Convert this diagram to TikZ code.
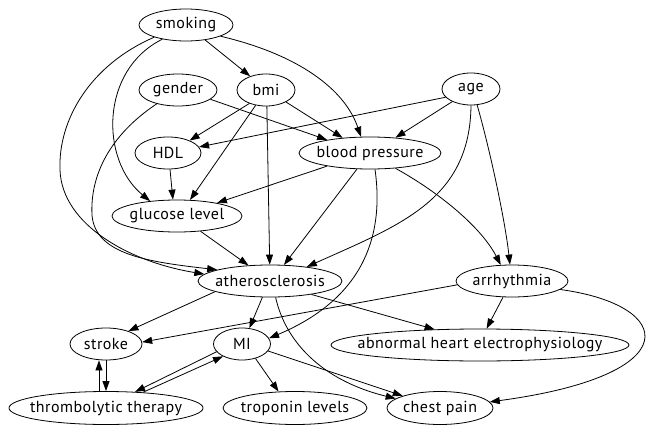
\documentclass[tikz,border=0pt]{standalone}
\usepackage{fontspec}
\setmainfont[LetterSpace=3]{PT Sans}
\usetikzlibrary{shapes.geometric,arrows.meta}
\newcommand\zt[1]{\makebox[0pt]{#1}}
\begin{document}
\begin{tikzpicture}[x=1pt,y=-1pt,
  nd/.style={draw,ellipse,inner sep=0pt,line width=0.8pt,font=\fontsize{16}{18}\selectfont},
  ed/.style={line width=0.8pt,-{Triangle[length=10pt,width=7pt]}}]
\useasboundingbox (0,0) rectangle (654,434);
\node[nd,minimum width=94pt,minimum height=32pt] (smoking) at (186,25) {\zt{smoking}};
\node[nd,minimum width=78pt,minimum height=32pt] (gender) at (178,90) {\zt{gender}};
\node[nd,minimum width=58pt,minimum height=32pt] (bmi) at (266,90) {\zt{bmi}};
\node[nd,minimum width=58pt,minimum height=32pt] (age) at (471,89) {\zt{age}};
\node[nd,minimum width=66pt,minimum height=32pt] (HDL) at (168,153) {\zt{HDL}};
\node[nd,minimum width=142pt,minimum height=32pt] (bp) at (370,153) {\zt{blood pressure}};
\node[nd,minimum width=130pt,minimum height=32pt] (glucose) at (177,216) {\zt{glucose level}};
\node[nd,minimum width=144pt,minimum height=32pt] (athero) at (270,281) {\zt{atherosclerosis}};
\node[nd,minimum width=112pt,minimum height=32pt] (arr) at (512,281) {\zt{arrhythmia}};
\node[nd,minimum width=72pt,minimum height=32pt] (stroke) at (106,344) {\zt{stroke}};
\node[nd,minimum width=57pt,minimum height=32pt] (MI) at (242,344) {\zt{MI}};
\node[nd,minimum width=298pt,minimum height=32pt] (abn) at (480,345) {\zt{abnormal heart electrophysiology}};
\node[nd,minimum width=194pt,minimum height=33pt] (thromb) at (106,408) {\zt{thrombolytic therapy}};
\node[nd,minimum width=144pt,minimum height=33pt] (trop) at (295,408) {\zt{troponin levels}};
\node[nd,minimum width=106pt,minimum height=33pt] (chest) at (440,408) {\zt{chest pain}};
\draw[ed] (smoking.322) -- (bmi.139);
\draw[ed] (smoking.342) .. controls (300,55) and (345,90) .. (bp.119);
\draw[ed] (smoking.211) .. controls (100,70) and (100,160) .. (glucose.151);
\draw[ed] (smoking.201) .. controls (90,65) and (58,120) .. (60,170) .. controls (62,225) and (130,262) .. (athero.174);
\draw[ed] (gender.213) .. controls (110,135) and (90,175) .. (92,215) .. controls (95,255) and (150,262) .. (athero.168);
\draw[ed] (gender.344) -- (bp.163);
\draw[ed] (bmi.219) -- (HDL.30);
\draw[ed] (bmi.236) -- (glucose.51);
\draw[ed] (bmi.329) -- (bp.151);
\draw[ed] (bmi.273) -- (athero.91);
\draw[ed] (age.198) -- (HDL.11);
\draw[ed] (age.214) -- (bp.31);
\draw[ed] (age.270) .. controls (470,200) and (400,225) .. (athero.21);
\draw[ed] (age.291) .. controls (490,150) and (505,220) .. (arr.97);
\draw[ed] (HDL.277) -- (glucose.104);
\draw[ed] (bp.197) -- (glucose.18);
\draw[ed] (bp.231) -- (athero.49);
\draw[ed] (bp.287) .. controls (385,240) and (360,300) .. (MI.12);
\draw[ed] (bp.329) .. controls (435,190) and (480,225) .. (arr.125);
\draw[ed] (glucose.327) -- (athero.144);
\draw[ed] (athero.191) -- (stroke.30);
\draw[ed] (athero.245) -- (MI.65);
\draw[ed] (athero.342) -- (abn.161);
\draw[ed] (athero.289) .. controls (285,340) and (320,380) .. (chest.168);
\draw[ed] (arr.184) -- (stroke.3);
\draw[ed] (arr.241) -- (abn.68);
\draw[ed] (arr.350) .. controls (675,305) and (690,375) .. (chest.7);
\draw[ed] ([xshift=-7pt]thromb.north) -- ([xshift=-7pt]stroke.south);
\draw[ed] (stroke.south) -- (thromb.north);
\draw[ed] (thromb.23) -- (MI.213);
\draw[ed] (MI.197) -- (thromb.29);
\draw[ed] (MI.313) -- (trop.135);
\draw[ed] (MI.345) -- (chest.162);
\end{tikzpicture}
\end{document}
